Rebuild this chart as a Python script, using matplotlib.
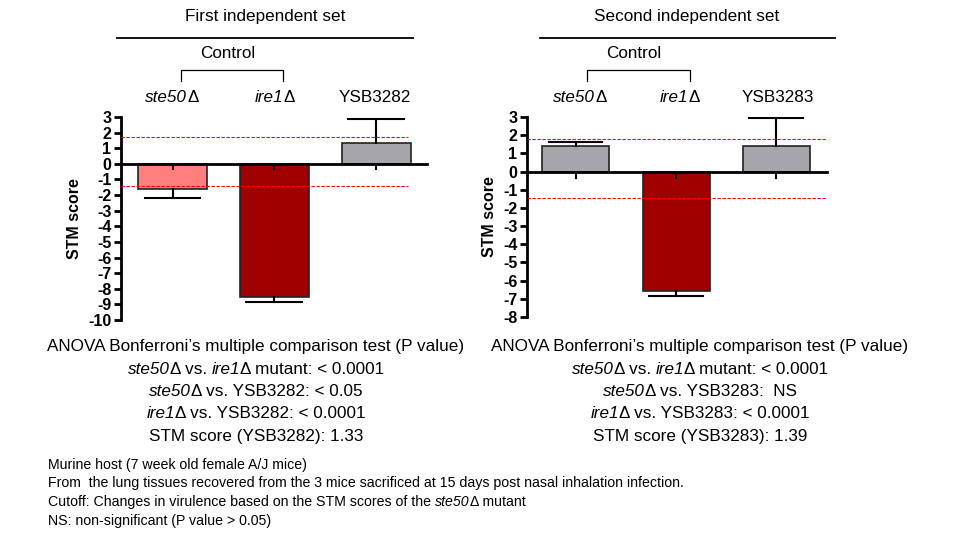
import matplotlib
matplotlib.use("Agg")
import matplotlib.pyplot as plt
from matplotlib.transforms import offset_copy

plt.rcParams['font.family'] = ['Liberation Sans', 'DejaVu Sans']
plt.rcParams['axes.unicode_minus'] = False

categories = ["ste50Δ", "ire1Δ", "YSB"]
set1_values = [-1.6, -8.55, 1.33]
set1_errors = [-2.2, -8.85, 2.85]
set1_cutoffs = [1.7, -1.45]
set2_values = [1.42, -6.55, 1.39]
set2_errors = [1.62, -6.85, 2.97]
set2_cutoffs = [1.8, -1.47]
set1_colors = ["#FF7F7F", "#A00000", "#A6A5AA"]
set2_colors = ["#A6A5AA", "#A00000", "#A6A5AA"]

W, H = 960, 535
fig = plt.figure(figsize=(9.6, 5.35), dpi=100)
renderer = fig.canvas.get_renderer()

def fx(x): return x / W
def fy(y): return 1 - y / H

def panel(l, r, t, b, ymin, vals, errs, cuts, cols, bar_px, axis_end, line_end):
    ax = fig.add_axes([fx(l), fy(b), fx(r - l), (b - t) / H])
    span = r - l
    xs = [((c0 + c1) / 2 - l) / span for c0, c1 in bar_px]
    w = (bar_px[0][1] - bar_px[0][0]) / span
    ax.set_xlim(0, 1)
    ax.set_ylim(ymin, 3)
    ax.bar(xs, vals, width=w, color=cols, edgecolor="#222222", linewidth=1.2, zorder=2)
    for x, v, e in zip(xs, vals, errs):
        ax.plot([x, x], [v, e], color="black", lw=1.5, zorder=3)
        ax.plot([x - w * 0.4, x + w * 0.4], [e, e], color="black", lw=1.5, zorder=3)
        ax.plot([x, x], [0, -0.35], color="black", lw=1.5, zorder=3)
    le = (line_end - l) / span
    for c in cuts:
        ax.plot([0, le], [c, c], color="red", lw=0.8, ls=(0, (3, 1.5)), zorder=4)
    ax.spines['top'].set_visible(False)
    ax.spines['right'].set_visible(False)
    ax.spines['bottom'].set_position(('data', 0))
    ax.spines['bottom'].set_bounds(0, (axis_end - l) / span)
    ax.spines['left'].set_linewidth(2)
    ax.spines['bottom'].set_linewidth(2)
    ax.set_xticks([])
    ax.set_yticks(range(ymin, 4))
    ax.tick_params(axis='y', width=2, length=5, labelsize=11.5, pad=2)
    for lab in ax.get_yticklabels():
        lab.set_fontweight('bold')
    ax.set_ylabel("STM score", fontsize=11.5, fontweight='bold', labelpad=4)
    ax.patch.set_alpha(0)
    return ax

panel(121, 427, 117, 320, -10, set1_values, set1_errors, set1_cutoffs, set1_colors,
      [(138, 207), (240, 308), (342, 410)], 427, 408)
panel(527, 827, 117, 317, -8, set2_values, set2_errors, set2_cutoffs, set2_colors,
      [(542, 609), (642, 710), (742, 810)], 827, 833)

def rich(x, y, parts, fs, ha='center'):
    """parts: list of (text, italic). Draw sequentially, then shift for alignment."""
    arts = []
    off = 0.0
    for txt, it in parts:
        t = fig.text(fx(x), fy(y), txt, ha='left', va='center', fontsize=fs,
                     style='italic' if it else 'normal',
                     transform=offset_copy(fig.transFigure, fig=fig, x=off, y=0, units='dots'))
        t._rich_off = off
        arts.append(t)
        off += t.get_window_extent(renderer).width
    shift = -off / 2 if ha == 'center' else 0
    for t in arts:
        t.set_transform(offset_copy(fig.transFigure, fig=fig, x=t._rich_off + shift, y=0, units='dots'))

fs = 12.3
def header(cx, l, r, title, bl, br, ccx, labx, ysb):
    fig.text(fx(cx), fy(17), title, ha='center', va='center', fontsize=fs)
    fig.add_artist(plt.Line2D([fx(l), fx(r)], [fy(38), fy(38)], color='black', lw=1.3))
    fig.text(fx(ccx), fy(54), "Control", ha='center', va='center', fontsize=fs)
    fig.add_artist(plt.Line2D([fx(bl), fx(bl), fx(br), fx(br)],
                              [fy(81), fy(70), fy(70), fy(81)], color='black', lw=0.9))
    rich(labx[0], 97, [("ste50", True), ("Δ", False)], fs)
    rich(labx[1], 97, [("ire1", True), ("Δ", False)], fs)
    fig.text(fx(labx[2]), fy(97), ysb, ha='center', va='center', fontsize=fs)

header(265, 117, 413, "First independent set", 181, 283, 228, [172, 275, 375], "YSB3282")
header(687, 540, 835, "Second independent set", 587, 690, 634, [580, 680, 778], "YSB3283")

def stats(cx, ysb, l2, score):
    rows = [[("ANOVA Bonferroni’s multiple comparison test (P value)", False)],
            [("ste50", True), ("Δ vs. ", False), ("ire1", True), ("Δ mutant: < 0.0001", False)],
            [("ste50", True), ("Δ vs. " + ysb + ": " + l2, False)],
            [("ire1", True), ("Δ vs. " + ysb + ": < 0.0001", False)],
            [("STM score (" + ysb + "): " + score, False)]]
    for y, p in zip([347, 369, 392, 414, 436], rows):
        rich(cx, y, p, fs)

stats(256, "YSB3282", "< 0.05", "1.33")
stats(700, "YSB3283", " NS", "1.39")

notes = [[("Murine host (7 week old female A/J mice)", False)],
         [("From  the lung tissues recovered from the 3 mice sacrificed at 15 days post nasal inhalation infection.", False)],
         [("Cutoff: Changes in virulence based on the STM scores of the ", False), ("ste50", True), ("Δ mutant", False)],
         [("NS: non-significant (P value > 0.05)", False)]]
for y, p in zip([465, 483, 502, 521], notes):
    rich(48, y, p, 10.2, ha='left')

fig.savefig("out.png", dpi=100)
